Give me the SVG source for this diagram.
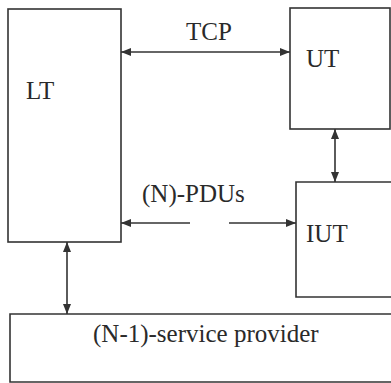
<svg xmlns="http://www.w3.org/2000/svg" width="391" height="383" viewBox="0 0 391 383">
  <style>
    .box { fill: none; stroke: #333; stroke-width: 1.6; }
    .conn { stroke: #333; stroke-width: 1.6; fill: none; }
    text { font-family: 'Liberation Serif', 'DejaVu Serif', 'Times New Roman', Times, serif; font-size: 25px; fill: #2a2a2a; }
  </style>
  <defs>
    <marker id="ah" viewBox="0 0 10 8" refX="10" refY="4" markerWidth="10" markerHeight="8" markerUnits="userSpaceOnUse" orient="auto-start-reverse">
      <path d="M0,0 L10,4 L0,8 z" fill="#333"/>
    </marker>
  </defs>
  <rect x="0" y="0" width="391" height="383" fill="#ffffff"/>
  <g id="LT">
    <rect class="box" x="8" y="9" width="113" height="233"/>
    <text x="26" y="99" font-family="Liberation Serif, DejaVu Serif, serif">LT</text>
  </g>
  <g id="UT">
    <rect class="box" x="290" y="8" width="100" height="121"/>
    <text x="306" y="67" font-family="Liberation Serif, DejaVu Serif, serif">UT</text>
  </g>
  <g id="IUT">
    <path class="box" d="M395,182 L296,182 L296,297 L395,297"/>
    <text x="306" y="242" font-family="Liberation Serif, DejaVu Serif, serif">IUT</text>
  </g>
  <g id="provider">
    <path class="box" d="M395,314 L10,314 L10,382 L395,382"/>
    <text x="93" y="342" font-family="Liberation Serif, DejaVu Serif, serif">(N-1)-service provider</text>
  </g>
  <g id="connectors">
    <line class="conn" x1="121" y1="52" x2="290" y2="52" marker-start="url(#ah)" marker-end="url(#ah)"/>
    <text x="186" y="40" font-family="Liberation Serif, DejaVu Serif, serif">TCP</text>
    <line class="conn" x1="335" y1="129" x2="335" y2="182" marker-start="url(#ah)" marker-end="url(#ah)"/>
    <line class="conn" x1="190" y1="223" x2="121" y2="223" marker-end="url(#ah)"/>
    <line class="conn" x1="229" y1="223" x2="296" y2="223" marker-end="url(#ah)"/>
    <text x="142" y="202" font-family="Liberation Serif, DejaVu Serif, serif">(N)-PDUs</text>
    <line class="conn" x1="67" y1="242" x2="67" y2="314" marker-start="url(#ah)" marker-end="url(#ah)"/>
  </g>
</svg>
